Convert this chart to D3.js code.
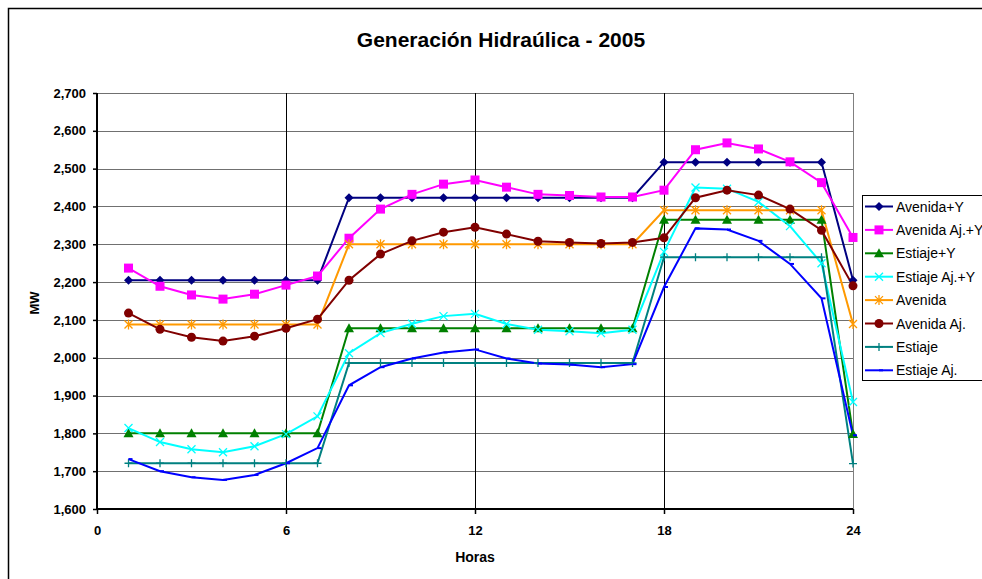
<!DOCTYPE html>
<html lang="es">
<head>
<meta charset="UTF-8">
<title>Generación Hidraúlica - 2005</title>
<style>
  body { margin: 0; background: #fff; font-family: "Liberation Sans", Arial, sans-serif; }
  svg { display: block; }
</style>
</head>
<body>
<svg width="982" height="579"></svg>
<script src="https://d3js.org/d3.v7.min.js"></script>
<script>

// Data

const hours = d3.range(1, 25);

const avenidaY = [2205, 2205, 2205, 2205, 2205, 2205, 2205, 2423, 2423, 2423, 2423, 2423, 2423, 2423, 2423, 2423, 2423, 2517, 2517, 2517, 2517, 2517, 2517, 2205];
const avenidaAjY = [2237, 2189, 2166, 2155, 2168, 2192, 2216, 2316, 2393, 2432, 2459, 2470, 2451, 2432, 2429, 2425, 2425, 2443, 2550, 2568, 2552, 2518, 2463, 2318];
const estiajeY = [1800, 1800, 1800, 1800, 1800, 1800, 1800, 2078, 2078, 2078, 2078, 2078, 2078, 2078, 2078, 2078, 2078, 2365, 2365, 2365, 2365, 2365, 2365, 1798];
const estiajeAjY = [1814, 1777, 1758, 1750, 1766, 1798, 1845, 2012, 2065, 2090, 2110, 2116, 2089, 2074, 2070, 2065, 2074, 2280, 2450, 2447, 2412, 2348, 2250, 1883];
const avenida = [2088, 2088, 2088, 2088, 2088, 2088, 2088, 2300, 2300, 2300, 2300, 2300, 2300, 2300, 2300, 2300, 2300, 2390, 2390, 2390, 2390, 2390, 2390, 2089];
const avenidaAj = [2118, 2075, 2054, 2044, 2057, 2078, 2102, 2205, 2274, 2309, 2332, 2345, 2327, 2308, 2305, 2302, 2305, 2317, 2423, 2443, 2430, 2393, 2337, 2190];
const estiaje = [1721, 1721, 1721, 1721, 1721, 1721, 1721, 1986, 1986, 1986, 1986, 1986, 1986, 1986, 1986, 1986, 1986, 2266, 2266, 2266, 2266, 2266, 2266, 1720];
const estiajeAj = [1732, 1700, 1684, 1677, 1690, 1721, 1761, 1927, 1975, 1998, 2014, 2022, 1998, 1985, 1982, 1975, 1983, 2187, 2342, 2339, 2309, 2248, 2157, 1795];

const seriesNames = ["Avenida+Y", "Avenida Aj.+Y", "Estiaje+Y", "Estiaje Aj.+Y", "Avenida", "Avenida Aj.", "Estiaje", "Estiaje Aj."];
const seriesValues = [avenidaY, avenidaAjY, estiajeY, estiajeAjY, avenida, avenidaAj, estiaje, estiajeAj];
const seriesColors = ["#000080", "#FF00FF", "#008000", "#00FFFF", "#FF9900", "#800000", "#008080", "#0000FF"];
const seriesMarkers = ["diamond", "square", "triangle", "x", "star", "circle", "plus", "dash"];

const xTicks = [0, 6, 12, 18, 24];
const yTicks = d3.range(1600, 2701, 100);

// Layout

const svg = d3.select("svg");
const plotLeft = 97, plotRight = 853, plotTop = 93, plotBottom = 509;

const x = d3.scaleLinear().domain([0, 24]).range([plotLeft, plotRight]);
const y = d3.scaleLinear().domain([1600, 2700]).range([plotBottom, plotTop]);

// Chart frame

svg.append("rect")
  .attr("x", 8.5).attr("y", 8.5)
  .attr("width", 1000).attr("height", 1000)
  .attr("fill", "#fff").attr("stroke", "#000").attr("stroke-width", 1.5);

// Title

svg.append("text")
  .attr("x", 501).attr("y", 47)
  .attr("text-anchor", "middle")
  .attr("font-size", 21).attr("font-weight", "bold")
  .text("Generación Hidraúlica - 2005");

// Grid

svg.append("g")
  .selectAll("line")
  .data(yTicks.filter(d => d > 1600))
  .join("line")
    .attr("x1", plotLeft).attr("x2", plotRight)
    .attr("y1", d => Math.round(y(d)) + 0.5).attr("y2", d => Math.round(y(d)) + 0.5)
    .attr("stroke", "#707070");

svg.append("g")
  .selectAll("line")
  .data(xTicks.filter(d => d > 0 && d < 24))
  .join("line")
    .attr("x1", d => Math.round(x(d)) + 0.5).attr("x2", d => Math.round(x(d)) + 0.5)
    .attr("y1", plotTop).attr("y2", plotBottom)
    .attr("stroke", "#000");

svg.append("line")
  .attr("x1", plotRight + 0.5).attr("x2", plotRight + 0.5)
  .attr("y1", plotTop).attr("y2", plotBottom)
  .attr("stroke", "#808080");

// Axes

const yAxis = d3.axisLeft(y).tickValues(yTicks).tickFormat(d3.format(",")).tickSize(4).tickPadding(7);
const xAxis = d3.axisBottom(x).tickValues(xTicks).tickSize(5).tickPadding(12);

const gy = svg.append("g").attr("transform", `translate(${plotLeft},0)`).call(yAxis);
const gx = svg.append("g").attr("transform", `translate(0,${plotBottom})`).call(xAxis);

[gx, gy].forEach(g => {
  g.select(".domain").attr("stroke", "#000").attr("stroke-width", 2);
  g.selectAll(".tick line").attr("stroke", "#000").attr("stroke-width", 1.5);
  g.selectAll(".tick text")
    .attr("font-family", "Liberation Sans, Arial, sans-serif")
    .attr("font-size", 13).attr("font-weight", "bold").attr("fill", "#000");
});
gy.select(".domain").attr("d", `M0,${plotTop}V${plotBottom}`);
gx.select(".domain").attr("d", `M${plotLeft},0H${plotRight}`);

svg.append("text")
  .attr("transform", `translate(39,${(plotTop + plotBottom) / 2 + 2}) rotate(-90)`)
  .attr("text-anchor", "middle")
  .attr("font-size", 13).attr("font-weight", "bold")
  .text("MW");

svg.append("text")
  .attr("x", (plotLeft + plotRight) / 2).attr("y", 562)
  .attr("text-anchor", "middle")
  .attr("font-size", 14).attr("font-weight", "bold")
  .text("Horas");

// Markers

function drawMarker(g, type, color) {
  switch (type) {
    case "diamond":
      g.append("path").attr("d", "M0,-4.5L4.5,0L0,4.5L-4.5,0Z").attr("fill", color);
      break;
    case "square":
      g.append("rect").attr("x", -4.5).attr("y", -4.5).attr("width", 9).attr("height", 9).attr("fill", color);
      break;
    case "triangle":
      g.append("path").attr("d", "M0,-5L5,4L-5,4Z").attr("fill", color);
      break;
    case "x":
      g.append("path").attr("d", "M-4,-4L4,4M-4,4L4,-4").attr("stroke", color).attr("stroke-width", 1.3).attr("fill", "none");
      break;
    case "star":
      g.append("path").attr("d", "M-4,-4L4,4M-4,4L4,-4M0,-5V5").attr("stroke", color).attr("stroke-width", 1.3).attr("fill", "none");
      break;
    case "circle":
      g.append("circle").attr("r", 4.5).attr("fill", color);
      break;
    case "plus":
      g.append("path").attr("d", "M-4,0H4M0,-4V4").attr("stroke", color).attr("stroke-width", 1.3).attr("fill", "none");
      break;
    case "dash":
      g.append("path").attr("d", "M0,0H4").attr("stroke", color).attr("stroke-width", 2).attr("fill", "none");
      break;
  }
}

// Series

const line = d3.line().x((d, i) => x(hours[i])).y(d => y(d));

seriesValues.forEach((values, s) => {
  svg.append("path")
    .datum(values)
    .attr("d", line)
    .attr("fill", "none")
    .attr("stroke", seriesColors[s])
    .attr("stroke-width", 2);
});

seriesValues.forEach((values, s) => {
  svg.append("g")
    .selectAll("g")
    .data(values)
    .join("g")
      .attr("transform", (d, i) => `translate(${x(hours[i])},${y(d)})`)
      .each(function () { drawMarker(d3.select(this), seriesMarkers[s], seriesColors[s]); });
});

// Legend

const legend = svg.append("g").attr("transform", "translate(862,195)");
legend.append("rect")
  .attr("x", 0.5).attr("y", 0.5)
  .attr("width", 140).attr("height", 185)
  .attr("fill", "#fff").attr("stroke", "#000");

seriesNames.forEach((name, s) => {
  const row = legend.append("g").attr("transform", `translate(0,${11.5 + s * 23.4})`);
  row.append("line")
    .attr("x1", 3).attr("x2", 31)
    .attr("stroke", seriesColors[s]).attr("stroke-width", 2);
  const m = row.append("g").attr("transform", "translate(17,0)");
  drawMarker(m, seriesMarkers[s], seriesColors[s]);
  row.append("text")
    .attr("x", 34).attr("y", 5)
    .attr("font-size", 14)
    .text(name);
});

</script>
</body>
</html>
